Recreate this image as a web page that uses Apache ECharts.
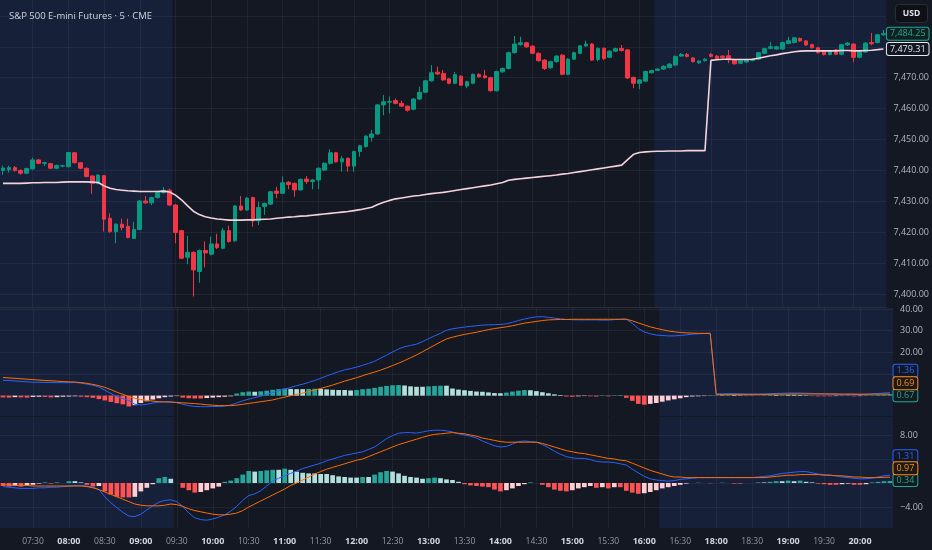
<!DOCTYPE html>
<html>
<head>
<meta charset="utf-8">
<script src="https://cdn.jsdelivr.net/npm/echarts@6/dist/echarts.min.js"></script>
<style>
  html, body { margin: 0; padding: 0; background: #141822; }
  #chart { width: 932px; height: 550px; }
</style>
</head>
<body>
<div id="chart"></div>
<script>
// 5 minute bars, two sessions (market closed 17:00 - 18:00)
var sessions = [["07:05", "16:55"], ["18:00", "20:25"]];
var extendedBars = [[-0.5, 28.5], [109.5, 148.5]]; // shaded (pre/post market) bar ranges

var opens = [7440.0,7440.2,7440.9,7440.0,7439.1,7440.5,7443.4,7442.3,7442.2,7440.7,7441.4,7441.2,7445.7,7442.5,7440.7,7438.2,7435.8,7438.3,7424.5,7420.2,
  7422.6,7421.9,7418.0,7420.9,7430.1,7429.5,7431.2,7432.8,7433.6,7428.8,7420.5,7411.9,7413.5,7407.3,7414.1,7412.9,7416.2,7414.8,7420.5,7417.2,
  7428.5,7427.2,7431.2,7423.7,7428.3,7429.1,7433.3,7432.6,7436.2,7435.8,7433.7,7437.2,7436.4,7436.9,7440.1,7442.3,7445.7,7442.8,7443.9,7441.4,
  7446.1,7447.7,7450.7,7451.8,7461.2,7462.1,7462.6,7461.7,7460.8,7459.8,7463.1,7465.3,7469.0,7471.8,7471.4,7469.6,7468.2,7470.5,7467.3,7468.2,
  7471.1,7470.6,7470.0,7465.8,7471.9,7473.0,7478.1,7480.7,7481.3,7480.2,7477.9,7475.7,7473.2,7475.2,7477.3,7471.1,7476.0,7477.9,7480.3,7480.9,
  7475.9,7479.5,7476.6,7478.6,7479.5,7479.0,7470.1,7468.2,7468.9,7471.6,7472.4,7472.8,7473.3,7474.1,7477.0,7477.5,7476.4,7474.8,7475.5,7477.5,
  7477.0,7477.0,7477.1,7475.8,7474.7,7475.1,7475.6,7476.0,7477.9,7479.5,7479.3,7479.3,7481.1,7481.4,7482.7,7481.9,7480.7,7479.7,7478.6,7477.5,
  7479.0,7477.6,7480.6,7480.9,7476.6,7478.3,7481.4,7481.4,7483.9];
var closes = [7440.8,7440.9,7440.0,7439.1,7440.6,7443.4,7442.3,7442.5,7440.7,7441.6,7441.5,7445.8,7442.5,7440.7,7438.0,7435.8,7438.5,7424.2,7420.2,7422.6,
  7421.5,7418.3,7420.9,7430.1,7429.5,7431.2,7432.8,7433.6,7428.8,7419.9,7411.6,7413.5,7407.8,7414.1,7413.3,7416.2,7415.0,7420.5,7417.0,7428.5,
  7427.2,7431.0,7423.7,7428.0,7429.3,7433.1,7432.6,7436.0,7435.4,7433.7,7437.1,7436.4,7436.9,7440.7,7442.3,7445.7,7442.8,7443.8,7441.4,7446.1,
  7448.0,7451.1,7451.8,7461.2,7462.2,7462.3,7461.7,7460.8,7459.5,7463.1,7465.3,7469.0,7471.6,7471.2,7469.3,7468.2,7471.0,7467.6,7468.7,7471.1,
  7470.3,7470.0,7465.8,7472.0,7473.0,7478.1,7480.9,7481.3,7480.0,7477.9,7475.5,7473.0,7475.2,7477.0,7471.1,7476.0,7478.1,7480.3,7480.9,7475.7,
  7479.5,7476.2,7478.6,7479.4,7478.8,7469.9,7468.2,7469.3,7472.0,7472.3,7472.8,7473.7,7474.4,7476.9,7477.5,7476.9,7475.2,7475.4,7476.0,7476.9,
  7476.2,7476.6,7475.8,7474.5,7475.5,7475.8,7476.0,7478.1,7479.4,7480.0,7480.0,7481.4,7482.0,7482.9,7481.9,7480.6,7479.7,7478.1,7477.5,7478.6,
  7477.6,7480.7,7481.2,7476.6,7478.3,7481.2,7481.0,7483.9,7484.25];
var lows = [7438.6,7439.3,7439.6,7438.6,7438.9,7440.2,7442.0,7441.5,7440.4,7440.4,7441.0,7441.0,7442.3,7440.4,7437.8,7432.4,7435.5,7420.2,7419.8,7416.4,
  7420.6,7418.0,7417.8,7420.6,7429.2,7428.8,7430.9,7432.5,7428.5,7416.4,7411.3,7409.6,7399.2,7403.7,7408.6,7412.5,7414.6,7414.5,7416.6,7416.9,
  7426.9,7426.9,7421.8,7422.3,7425.6,7428.8,7431.0,7432.3,7433.9,7431.5,7433.4,7435.6,7433.9,7433.9,7439.8,7442.0,7442.5,7439.6,7439.6,7439.6,
  7444.4,7447.4,7449.3,7451.5,7457.9,7458.5,7461.4,7460.5,7459.0,7459.5,7462.8,7465.0,7468.7,7470.9,7469.0,7467.9,7467.9,7467.3,7466.6,7467.9,
  7470.0,7469.7,7465.5,7465.5,7471.6,7472.7,7477.8,7480.4,7479.7,7477.6,7475.2,7472.5,7472.9,7474.9,7470.8,7470.8,7475.7,7477.6,7480.0,7475.4,
  7475.3,7475.7,7476.3,7478.3,7478.5,7469.6,7466.6,7466.3,7468.6,7471.3,7472.1,7472.5,7473.0,7473.8,7476.7,7476.6,7474.9,7474.5,7475.2,7476.6,
  7475.9,7476.3,7474.7,7474.2,7474.4,7474.8,7475.3,7475.7,7477.6,7479.2,7479.0,7479.0,7480.8,7481.1,7481.6,7480.3,7479.4,7477.8,7477.2,7477.2,
  7477.3,7477.3,7480.3,7475.0,7476.3,7478.0,7480.5,7481.1,7483.6];
var highs = [7441.6,7441.5,7441.4,7440.3,7440.9,7444.1,7443.7,7442.8,7442.4,7441.9,7441.8,7446.0,7446.0,7442.7,7441.0,7438.4,7438.8,7438.5,7426.1,7422.9,
  7424.4,7424.4,7423.4,7430.4,7431.7,7431.5,7433.1,7434.6,7434.1,7429.1,7420.8,7418.8,7413.8,7414.4,7417.0,7418.6,7419.5,7421.3,7422.1,7428.8,
  7431.7,7431.4,7431.5,7429.9,7429.6,7433.4,7434.7,7438.0,7436.5,7436.1,7437.4,7438.2,7437.2,7441.0,7442.6,7446.8,7446.0,7444.7,7444.2,7446.4,
  7448.3,7451.4,7453.1,7461.5,7464.4,7463.9,7463.3,7462.6,7461.0,7463.4,7467.1,7469.3,7474.1,7473.6,7472.5,7469.9,7471.9,7470.8,7469.0,7471.4,
  7471.4,7472.5,7470.3,7472.3,7473.3,7478.4,7483.5,7483.3,7481.6,7480.5,7478.2,7476.0,7475.5,7477.3,7477.6,7476.3,7478.4,7480.6,7482.0,7481.2,
  7479.8,7479.8,7478.9,7479.7,7480.6,7479.3,7470.4,7469.6,7472.3,7472.6,7473.1,7474.0,7474.7,7477.2,7478.0,7478.0,7476.7,7475.7,7476.3,7478.0,
  7477.3,7477.3,7479.0,7476.1,7475.8,7476.1,7476.3,7478.4,7479.7,7481.6,7480.3,7481.7,7483.3,7483.2,7483.0,7482.2,7481.0,7480.0,7478.9,7478.9,
  7479.3,7481.0,7481.5,7481.2,7478.6,7481.5,7484.5,7484.2,7485.5];
var vwap = [7435.8,7435.8,7435.8,7435.8,7435.9,7436.0,7436.0,7436.1,7436.1,7436.1,7436.2,7436.3,7436.3,7436.3,7436.3,7436.2,7436.1,7435.0,7434.2,7433.8,
  7433.6,7433.4,7433.3,7433.2,7433.2,7433.2,7433.2,7433.3,7433.0,7432.0,7430.5,7428.6,7426.8,7425.7,7425.0,7424.6,7424.3,7424.1,7423.9,7423.9,
  7423.9,7424.0,7424.0,7424.1,7424.2,7424.3,7424.5,7424.7,7424.9,7425.0,7425.2,7425.3,7425.5,7425.7,7425.9,7426.1,7426.3,7426.5,7426.7,7427.0,
  7427.3,7427.7,7428.1,7429.0,7429.7,7430.3,7430.8,7431.1,7431.4,7431.7,7431.9,7432.2,7432.5,7432.7,7432.9,7433.2,7433.5,7433.8,7434.1,7434.4,
  7434.7,7435.0,7435.3,7435.7,7436.1,7436.8,7437.1,7437.3,7437.5,7437.7,7437.9,7438.1,7438.3,7438.5,7438.8,7439.0,7439.3,7439.6,7439.9,7440.2,
  7440.5,7440.8,7441.1,7441.4,7441.7,7443.5,7445.2,7445.8,7446.0,7446.1,7446.2,7446.2,7446.3,7446.3,7446.3,7446.4,7446.4,7446.4,7446.4,7475.6,
  7475.8,7476.0,7476.0,7475.9,7475.9,7475.9,7476.0,7476.3,7476.7,7477.1,7477.4,7477.8,7478.1,7478.4,7478.6,7478.7,7478.7,7478.7,7478.7,7478.7,
  7478.7,7478.8,7478.8,7478.7,7478.7,7478.8,7478.9,7479.1,7479.31];

// pane 2 oscillator
var fast2 = [7.1,7.0,6.8,6.6,6.4,6.2,6.2,6.1,6.1,6.0,6.0,6.0,6.1,5.8,5.3,4.8,4.0,2.5,1.0,-0.4,
  -1.4,-2.3,-4.0,-4.3,-4.0,-3.4,-3.0,-2.8,-2.8,-3.3,-4.0,-4.6,-5.0,-5.1,-5.1,-5.0,-5.0,-4.8,-4.3,-3.4,
  -2.4,-1.6,-0.9,-0.3,0.6,1.4,2.2,3.0,3.8,4.6,5.3,6.1,7.0,8.0,9.1,10.1,11.1,11.9,12.5,13.2,
  14.0,14.9,15.9,17.3,18.7,20.2,21.6,22.6,23.2,23.8,25.0,26.3,27.6,28.8,30.2,30.9,31.3,31.7,32.0,32.3,
  32.6,32.7,32.8,32.9,33.2,33.9,34.7,35.4,36.0,36.4,36.5,36.2,35.8,35.5,35.2,35.1,35.0,35.0,35.0,35.0,
  34.9,34.9,35.1,35.3,35.4,33.4,31.0,29.4,28.6,28.0,27.8,27.6,27.6,27.8,28.1,28.4,28.6,28.7,28.8,0.8,
  0.8,0.9,0.9,0.8,0.7,0.7,0.7,0.8,0.9,1.0,1.1,1.2,1.2,1.2,1.1,1.0,0.9,0.8,0.7,0.6,
  0.6,0.7,0.6,0.5,0.6,0.8,1.0,1.2,1.36];
var signal2 = [8.4,8.2,8.0,7.8,7.6,7.4,7.2,7.0,6.9,6.7,6.5,6.4,6.3,6.0,5.7,5.2,4.6,3.8,2.8,1.6,
  0.6,-0.4,-1.2,-1.8,-2.2,-2.5,-2.8,-2.9,-3.0,-3.1,-3.3,-3.5,-3.7,-3.9,-4.2,-4.4,-4.6,-4.6,-4.6,-4.4,
  -4.0,-3.6,-3.2,-2.8,-2.4,-2.0,-1.3,-0.7,0.0,0.6,1.2,1.9,2.6,3.3,4.1,4.9,5.8,6.7,7.5,8.3,
  9.2,10.1,10.9,11.8,12.8,13.9,15.0,16.2,17.5,18.8,20.3,21.8,23.3,24.8,26.2,27.0,27.7,28.3,28.8,29.3,
  29.9,30.5,31.0,31.4,31.8,32.3,32.9,33.5,33.9,34.3,34.7,35.0,35.1,35.2,35.2,35.3,35.3,35.3,35.3,35.3,
  35.3,35.3,35.3,35.3,35.3,34.6,33.6,32.7,31.8,31.1,30.5,29.9,29.5,29.2,29.0,28.9,28.8,28.8,28.8,0.6,
  0.6,0.6,0.6,0.6,0.6,0.6,0.6,0.6,0.6,0.7,0.7,0.7,0.8,0.8,0.8,0.8,0.8,0.8,0.8,0.8,
  0.7,0.7,0.7,0.7,0.7,0.7,0.7,0.7,0.69];
var hist2 = [-0.8,-0.9,-0.7,-0.8,-0.9,-0.6,-0.5,-0.6,-0.8,-0.7,-0.5,-0.4,-0.3,-0.5,-0.7,-1.0,-1.6,-2.2,-2.9,-3.5,
  -4.0,-5.0,-4.4,-3.4,-2.6,-1.8,-1.2,-0.7,-0.4,-0.2,-0.9,-1.2,-1.3,-1.3,-1.1,-0.9,-0.7,-0.5,-0.3,1.0,
  1.6,1.9,1.8,2.0,2.3,2.7,3.0,3.3,3.1,3.0,3.0,3.1,3.2,3.1,2.9,2.7,2.6,2.6,2.4,2.6,
  3.0,3.2,3.6,4.1,4.5,4.8,4.9,4.7,4.3,4.1,4.1,4.3,4.5,4.6,4.6,3.3,2.8,2.5,2.2,1.9,
  1.8,1.5,1.2,1.1,1.4,1.9,2.3,2.6,2.5,2.1,1.6,1.1,0.6,0.3,-0.4,-0.5,-0.3,-0.2,-0.3,-0.4,
  0.2,-0.3,0.2,0.3,-1.0,-2.4,-3.8,-4.2,-3.8,-3.4,-2.8,-2.2,-1.7,-1.2,-0.7,-0.4,-0.3,-0.2,-0.1,0.2,
  0.2,0.3,0.3,0.2,0.1,0.1,-0.1,0.2,0.3,0.3,0.4,0.4,0.4,0.3,0.2,-0.2,-0.3,-0.3,-0.3,-0.2,
  -0.2,-0.1,-0.3,-0.2,-0.1,0.2,0.4,0.5,0.67];

// pane 3 oscillator
var fast3 = [-0.6,-0.7,-0.8,-0.9,-0.9,-0.9,-0.8,-0.8,-0.7,-0.7,-0.6,-0.5,-0.4,-0.4,-0.5,-0.7,-1.1,-2.3,-3.3,-4.1,
  -4.9,-5.5,-5.6,-5.2,-4.5,-3.8,-3.2,-2.9,-2.8,-3.1,-3.9,-5.0,-5.8,-6.1,-6.2,-6.0,-5.7,-5.3,-4.7,-3.9,
  -2.9,-2.1,-1.8,-1.3,-0.5,0.3,0.8,1.2,1.6,2.0,2.4,2.7,3.0,3.3,3.7,4.0,4.3,4.6,4.8,5.0,
  5.2,5.6,6.0,6.7,7.4,7.9,8.3,8.4,8.4,8.3,8.5,8.7,8.8,8.8,8.7,8.5,8.2,8.0,7.8,7.5,
  7.0,6.6,6.2,6.0,6.1,6.5,6.9,7.0,6.9,6.8,6.4,5.9,5.3,4.8,4.4,4.2,4.1,4.1,3.9,3.6,
  3.5,3.5,3.4,3.2,3.0,2.3,1.7,1.1,0.7,0.5,0.4,0.3,0.4,0.6,0.7,0.8,0.9,0.9,0.9,0.9,
  0.9,0.9,0.9,0.9,0.9,0.9,1.0,1.1,1.2,1.4,1.6,1.7,1.8,1.9,1.9,1.7,1.5,1.4,1.3,1.2,
  1.0,0.9,0.8,0.7,0.7,0.8,1.0,1.2,1.31];
var signal3 = [-0.3,-0.3,-0.4,-0.4,-0.4,-0.5,-0.5,-0.5,-0.5,-0.5,-0.5,-0.5,-0.5,-0.5,-0.6,-0.8,-1.1,-1.5,-1.9,-2.3,
  -2.7,-3.1,-3.5,-3.7,-3.8,-3.8,-3.8,-3.7,-3.5,-3.6,-3.9,-4.3,-4.6,-4.8,-5.0,-5.2,-5.3,-5.3,-5.2,-5.0,
  -4.6,-4.0,-3.5,-3.0,-2.5,-2.0,-1.5,-1.0,-0.4,0.0,0.5,1.0,1.5,1.9,2.3,2.6,2.9,3.2,3.5,3.8,
  4.0,4.4,4.8,5.2,5.6,6.0,6.4,6.7,7.0,7.3,7.6,7.9,8.1,8.2,8.3,8.4,8.3,8.2,8.0,7.8,
  7.5,7.3,7.1,6.9,6.8,6.8,6.8,6.8,6.8,6.8,6.6,6.3,6.0,5.7,5.4,5.2,5.0,4.9,4.7,4.5,
  4.3,4.1,4.0,3.8,3.7,3.3,2.9,2.5,2.1,1.8,1.5,1.2,1.0,1.0,0.9,0.9,0.9,0.9,0.9,0.9,
  0.9,0.9,0.9,0.9,0.9,0.9,0.9,0.9,1.0,1.1,1.2,1.3,1.3,1.4,1.4,1.4,1.4,1.3,1.3,1.2,
  1.2,1.1,1.0,1.0,0.9,0.9,0.9,0.95,0.97];
var hist3 = [-0.5,-0.6,-0.5,-0.6,-0.4,-0.3,-0.1,0.1,-0.1,0.1,0.0,0.3,0.3,0.1,-0.3,-0.6,-0.5,-1.4,-1.9,-2.3,
  -2.4,-2.4,-2.3,-1.4,-0.8,-0.2,0.8,1.0,0.7,0.0,-0.8,-1.2,-1.6,-1.5,-1.2,-0.9,-0.6,0.2,0.4,0.8,
  1.4,2.0,1.9,2.0,2.1,2.2,2.2,2.4,2.2,1.9,1.7,1.6,1.6,1.5,1.5,1.3,1.1,1.0,0.9,0.9,
  1.0,1.0,1.4,1.8,2.0,1.9,1.6,1.2,1.0,0.9,0.7,0.8,0.9,0.8,0.6,0.5,0.2,-0.2,-0.4,-0.5,
  -0.6,-0.7,-1.1,-1.4,-1.2,-0.9,-0.5,-0.2,0.1,0.0,-0.3,-0.7,-1.1,-1.3,-1.4,-1.2,-0.9,-0.7,-0.5,-0.8,
  -0.7,-0.9,-0.7,-0.7,-1.3,-1.6,-1.8,-1.7,-1.5,-1.2,-0.9,-0.7,-0.5,-0.3,-0.1,0.0,0.05,0.0,-0.05,0.0,
  0.05,0.0,-0.1,-0.1,0.0,0.0,0.1,0.1,0.2,0.3,0.3,0.4,0.3,0.4,0.2,0.1,-0.1,-0.2,-0.3,-0.3,
  -0.2,-0.1,-0.3,-0.3,-0.2,0.1,0.2,0.3,0.34];

var priceTicks = [7400, 7410, 7420, 7430, 7440, 7450, 7460, 7470, 7480, 7490];
var priceLabels = [7400, 7410, 7420, 7430, 7440, 7450, 7460, 7470];
var pane2Ticks = [0, 10, 20, 30, 40];
var pane2Labels = [20, 30, 40];
var pane3Ticks = [-4, 0, 4, 8];
var pane3Labels = [-4, 8];

function buildTimes() {
  var out = [];
  sessions.forEach(function (s) {
    var a = s[0].split(":"), b = s[1].split(":");
    var t = +a[0] * 60 + +a[1], end = +b[0] * 60 + +b[1];
    for (; t <= end; t += 5) {
      var h = Math.floor(t / 60), m = t % 60;
      out.push((h < 10 ? "0" : "") + h + ":" + (m < 10 ? "0" : "") + m);
    }
  });
  return out;
}
var times = buildTimes();
var last = times.length - 1;

function fmt(v) {
  var s = Math.abs(v).toLocaleString("en-US", { minimumFractionDigits: 2, maximumFractionDigits: 2 });
  return (v < 0 ? "\u2212" : "") + s;
}

function histData(vals) {
  return vals.map(function (v, i) {
    var p = i > 0 ? vals[i - 1] : 0;
    var c;
    if (v >= 0) c = p < v ? "#26a69a" : "#b2dfdb";
    else c = p < v ? "#ffcdd2" : "#ff5252";
    return { value: v, itemStyle: { color: c } };
  });
}

function isLabelTime(v) {
  return v.slice(3) === "00" || v.slice(3) === "30";
}

var gridLine = { show: true, lineStyle: { color: "rgba(130,140,170,0.11)", width: 1 } };

function catAxis(idx, showLabels) {
  return {
    type: "category", gridIndex: idx, data: times, boundaryGap: true,
    axisLine: { show: idx < 2, lineStyle: { color: "#2a2e39", width: 1 } },
    axisTick: { show: false, alignWithLabel: true },
    splitLine: {
      show: true, alignWithLabel: true,
      interval: function (i, v) { return isLabelTime(v); },
      lineStyle: gridLine.lineStyle
    },
    axisLabel: {
      show: showLabels, margin: 9,
      interval: function (i, v) { return isLabelTime(v); },
      formatter: function (v) { return v.slice(3) === "00" ? "{b|" + v + "}" : "{n|" + v + "}"; },
      rich: {
        b: { fontFamily: "Open Sans", fontSize: 9, fontWeight: "bold", color: "#d1d4dc" },
        n: { fontFamily: "Open Sans", fontSize: 8.5, color: "#9598a1" }
      }
    }
  };
}

function bgAxis(idx) {
  return { type: "value", gridIndex: idx, min: -0.5, max: last + 0.5, show: false, splitLine: { show: false } };
}

function valAxis(idx, min, max, ticks, labels) {
  return {
    type: "value", gridIndex: idx, position: "right", min: min, max: max, scale: true,
    axisLine: { show: false },
    axisTick: { show: false, customValues: ticks },
    splitLine: gridLine,
    axisLabel: {
      customValues: labels, margin: 7, color: "#b2b5be", fontSize: 9, fontFamily: "Open Sans",
      formatter: function (v) { return fmt(v); }
    }
  };
}

function bgSeries(idx) {
  return {
    type: "line", xAxisIndex: 3 + idx, yAxisIndex: idx, data: [], silent: true, z: 0,
    markArea: {
      silent: true,
      itemStyle: { color: "rgba(50,90,230,0.12)" },
      data: extendedBars.map(function (r) { return [{ xAxis: r[0] }, { xAxis: r[1] }]; })
    }
  };
}

function lastTag(value, color, bg, dy) {
  return {
    symbol: "rect", symbolSize: 1, itemStyle: { color: "rgba(0,0,0,0)" },
    data: [{ coord: [last, value], value: value }],
    label: {
      show: true, position: "right", distance: 3, offset: [0, dy],
      formatter: function () { return fmt(value); },
      color: color, backgroundColor: bg, borderColor: color, borderWidth: 1, borderRadius: 2,
      padding: [2, 3, 1, 3], fontSize: 9, fontFamily: "Open Sans"
    }
  };
}

var candleData = opens.map(function (o, i) { return [o, closes[i], lows[i], highs[i]]; });

var option = {
  backgroundColor: "#141822",
  animation: false,
  title: {
    text: "S&P 500 E-mini Futures \u00b7 5 \u00b7 CME", left: 4, top: 6,
    textStyle: { color: "#d1d4dc", fontSize: 9.5, fontWeight: "normal", fontFamily: "Open Sans" }
  },
  grid: [
    { left: -1, right: 39, top: 0, height: 307 },
    { left: -1, right: 39, top: 308, height: 108 },
    { left: -1, right: 39, top: 417, height: 111 }
  ],
  xAxis: [catAxis(0, false), catAxis(1, false), catAxis(2, true), bgAxis(0), bgAxis(1), bgAxis(2)],
  yAxis: [
    valAxis(0, 7395.8, 7495.15, priceTicks, priceLabels),
    valAxis(1, -9.4, 40.5, pane2Ticks, pane2Labels),
    valAxis(2, -7.5, 11.0, pane3Ticks, pane3Labels)
  ],
  graphic: [{
    type: "group", right: 4, top: 4,
    children: [
      { type: "rect", shape: { x: 0, y: 0, width: 32, height: 18, r: 3 }, style: { fill: "#0e1016", stroke: "#2a2e39" } },
      { type: "text", x: 16, y: 9, style: { text: "USD", fill: "#e0e3eb", fontSize: 8.5, fontWeight: "bold", fontFamily: "Open Sans", align: "center", verticalAlign: "middle" } }
    ]
  }],
  series: [
    bgSeries(0), bgSeries(1), bgSeries(2),
    {
      type: "candlestick", xAxisIndex: 0, yAxisIndex: 0, data: candleData, barWidth: "70%",
      itemStyle: { color: "#089981", color0: "#f23645", borderColor: "#089981", borderColor0: "#f23645", borderWidth: 1 },
      markPoint: lastTag(closes[last], "#26a69a", "#10221f", 0)
    },
    {
      type: "line", xAxisIndex: 0, yAxisIndex: 0, data: vwap, showSymbol: false,
      lineStyle: { color: "#f4d3dc", width: 1.6 },
      markPoint: lastTag(vwap[last], "#e6e8ee", "#131722", 0)
    },
    {
      type: "bar", xAxisIndex: 1, yAxisIndex: 1, data: histData(hist2), barWidth: "78%",
      markPoint: lastTag(hist2[last], "#26a69a", "#131a20", 1)
    },
    {
      type: "line", xAxisIndex: 1, yAxisIndex: 1, data: fast2, showSymbol: false,
      lineStyle: { color: "#2962ff", width: 1 },
      markPoint: lastTag(fast2[last], "#2962ff", "#131722", -22)
    },
    {
      type: "line", xAxisIndex: 1, yAxisIndex: 1, data: signal2, showSymbol: false,
      lineStyle: { color: "#ff6d00", width: 1 },
      markPoint: lastTag(signal2[last], "#ff8c1a", "#1c1a18", -11)
    },
    {
      type: "bar", xAxisIndex: 2, yAxisIndex: 2, data: histData(hist3), barWidth: "78%",
      markPoint: lastTag(hist3[last], "#26a69a", "#131a20", -1)
    },
    {
      type: "line", xAxisIndex: 2, yAxisIndex: 2, data: fast3, showSymbol: false,
      lineStyle: { color: "#2962ff", width: 1 },
      markPoint: lastTag(fast3[last], "#2962ff", "#131722", -19)
    },
    {
      type: "line", xAxisIndex: 2, yAxisIndex: 2, data: signal3, showSymbol: false,
      lineStyle: { color: "#ff6d00", width: 1 },
      markPoint: lastTag(signal3[last], "#ff8c1a", "#1c1a18", -9)
    }
  ]
};

var myChart = echarts.init(document.getElementById("chart"));
myChart.setOption(option);
</script>
</body>
</html>
